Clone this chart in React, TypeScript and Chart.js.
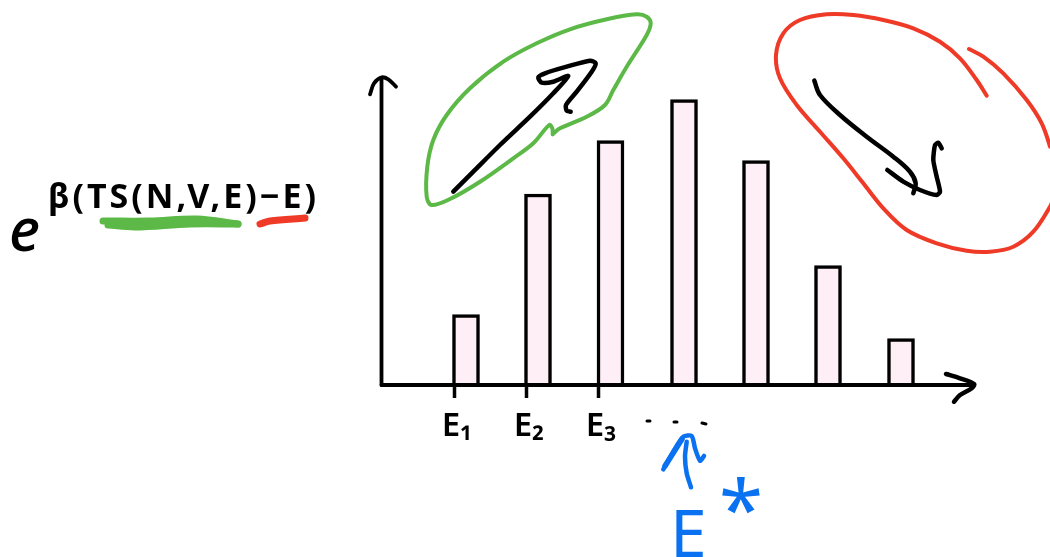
import React, { useEffect, useRef } from "react";
import { Chart, registerables } from "chart.js";

Chart.register(...registerables);

type Pt = [number, number];

const barCenters = [466, 538, 610.5, 684, 756, 828, 901];
const barValues = [70.5, 191, 244.5, 285.5, 224.5, 119.5, 46.5];
const tickPositions = [454, 526, 598];
const tickLabels = ["E₁", "E₂", "E₃"];
const ellipsisDotA: Pt[] = [[647, -36], [650, -36]];
const ellipsisDotB: Pt[] = [[674, -37], [677, -37]];
const ellipsisDotC: Pt[] = [[702, -38], [706, -39]];

const yAxisLine: Pt[] = [[381.5, 0], [381.5, 306]];
const xAxisLine: Pt[] = [[381.5, 0], [972, 0]];
const yArrowHead: Pt[] = [[370, 290.7], [374, 301.7], [381.7, 307.7], [388.3, 305.7], [396, 298.3]];
const xArrowHead: Pt[] = [[946, 11], [960, 6.7], [974, 1], [971.7, -3.3], [960, -10], [954, -16.7]];

const greenLoop: Pt[] = [
  [552.7, 250.7], [560, 256.7], [586.7, 268.3], [605, 280], [613.3, 295], [626.7, 318.3], [646.7, 350],
  [650.7, 361.7], [646.7, 368.3], [636.7, 370.7], [606.7, 365.7], [570, 355.7], [536.7, 341.7], [503.3, 323.3],
  [470, 296.7], [446.7, 270], [433.3, 245], [427.3, 218.3], [426.7, 188.3], [431.7, 180], [450, 186],
  [480, 203.3], [513.3, 226.7], [533.3, 241.7], [549.3, 260], [552.3, 256.7], [552.7, 250.7],
];
const greenArrow: Pt[] = [
  [453.3, 193.3], [473.3, 213.3], [500, 240], [530, 268.3], [553.3, 291.7], [568.3, 309], [553.3, 303.3],
  [541.7, 302.3], [538.3, 307.7], [545, 311.7], [566.7, 318.3], [590, 324.3], [595.7, 321.7], [591.7, 313.3],
  [576.7, 293.3], [566, 280], [566.7, 274.3], [570.7, 273.3],
];
const redLoop: Pt[] = [
  [986.7, 289.3], [976.7, 305], [960, 326.7], [940, 343.3], [913.3, 356.7], [883.3, 365], [853.3, 370],
  [826.7, 370.7], [800, 365], [783.3, 351.7], [776, 330], [780, 306.7], [796.7, 280], [820, 253.3],
  [843.3, 226.7], [863.3, 201.7], [883.3, 176.7], [906.7, 155], [936.7, 141.7], [966.7, 134.3], [990, 133.3],
  [1013.3, 138.3], [1033.3, 153.3], [1050, 178.3], [1056, 192],
];
const redTail: Pt[] = [[969, 336], [983.3, 328.3], [1003.3, 311.7], [1026.7, 285], [1041.7, 261.7], [1050, 238.3], [1054, 222]];
const redArrowShaft: Pt[] = [
  [814.3, 304.3], [820, 290], [840, 270], [866.7, 248.3], [893.3, 228.3], [910, 213.3], [915.7, 201.7], [913.3, 191.7],
];
const redArrowHead: Pt[] = [
  [887.3, 215], [903.3, 203.3], [920, 195], [936.7, 190], [940, 193.3], [936.7, 208.3], [933.3, 225], [935, 240],
  [938.3, 242.3], [941.7, 236.7],
];
const blueArrowHead: Pt[] = [
  [663.3, -84.3], [673.3, -66.7], [683.3, -51.7], [691.7, -51], [695, -63.3], [700, -75.7], [704, -71],
];
const blueWedge: Pt[] = [[665, -81], [682, -54]];
const blueArrowShaft: Pt[] = [[691, -102.3], [686.7, -88.3], [685, -71.7], [686.7, -56.7]];
const greenUnderlineA: Pt[] = [[103, 164], [150, 164], [197, 166], [238, 161]];
const greenUnderlineB: Pt[] = [[108, 160], [135, 158], [190, 161], [238, 161]];
const redUnderline: Pt[] = [[260, 161], [270, 164], [305, 167]];

const toXY = (pts: Pt[]) => pts.map(([x, y]) => ({ x, y }));
const stroke = (pts: Pt[], color: string, width = 4, tension = 0.35) => ({
  type: "line" as const,
  data: toXY(pts),
  borderColor: color,
  backgroundColor: color,
  borderWidth: width,
  borderCapStyle: "round" as const,
  borderJoinStyle: "round" as const,
  pointRadius: 0,
  tension,
  fill: false,
  clip: false as const,
});

const formulaPlugin = {
  id: "formula",
  afterDatasetsDraw(chart: Chart) {
    const ctx = chart.ctx as CanvasRenderingContext2D & { letterSpacing: string };
    ctx.save();
    ctx.textBaseline = "alphabetic";
    ctx.textAlign = "left";
    ctx.fillStyle = "#000";
    ctx.font = 'italic 500 60px "Noto Sans", "DejaVu Sans", sans-serif';
    ctx.fillText("e", 9, 251);
    ctx.font = '700 34px "Noto Sans", "DejaVu Sans", sans-serif';
    ctx.letterSpacing = "3px";
    ctx.fillText("β(TS(N,V,E)−E)", 48, 208);
    ctx.letterSpacing = "0px";
    ctx.fillStyle = "#0a72f0";
    ctx.font = '400 66px "Noto Sans", "DejaVu Sans", sans-serif';
    ctx.fillText("E", 670, 557);
    ctx.font = '400 80px "Noto Sans", "DejaVu Sans", sans-serif';
    ctx.fillText("*", 719, 538);
    ctx.restore();
  },
};

export default function App() {
  const ref = useRef<HTMLCanvasElement>(null);

  useEffect(() => {
    document.body.style.margin = "0";
    const chart = new Chart(ref.current!, {
      type: "bar",
      data: {
        datasets: [
          {
            type: "bar",
            data: barCenters.map((x, i) => ({ x, y: barValues[i] })),
            backgroundColor: "#feeef6",
            borderColor: "#000",
            borderWidth: 3.5,
            barThickness: 27,
            order: 2,
          },
          stroke(yAxisLine, "#000", 3.8, 0),
          stroke(xAxisLine, "#000", 3.8, 0),
          stroke(yArrowHead, "#000", 3.8),
          stroke(xArrowHead, "#000", 4.5),
          stroke(greenLoop, "#5cb947", 4),
          stroke(greenArrow, "#000", 4.5, 0.25),
          stroke(redLoop, "#ee3a26", 4),
          stroke(redTail, "#ee3a26", 4),
          stroke(redArrowShaft, "#000", 4.5),
          stroke(redArrowHead, "#000", 4.5, 0.2),
          stroke(blueArrowHead, "#0a72f0", 4.5, 0.25),
          stroke(blueWedge, "#0a72f0", 5.5, 0),
          stroke(blueArrowShaft, "#0a72f0", 4.5, 0.25),
          stroke(greenUnderlineA, "#5cb947", 7),
          stroke(greenUnderlineB, "#5cb947", 7),
          stroke(redUnderline, "#ee3a26", 7),
          stroke(ellipsisDotA, "#000", 3, 0),
          stroke(ellipsisDotB, "#000", 3, 0),
          stroke(ellipsisDotC, "#000", 3, 0),
        ] as any,
      },
      options: {
        responsive: false,
        animation: false,
        layout: { padding: { left: 0, right: 0, top: 77, bottom: 0 } },
        plugins: { legend: { display: false }, tooltip: { enabled: false } },
        scales: {
          x: {
            type: "linear",
            min: 0,
            max: 1050,
            offset: false,
            afterFit: (s: any) => {
              s.height = 172;
            },
            afterBuildTicks: (s: any) => {
              s.ticks = tickPositions.map((value) => ({ value }));
            },
            border: { display: false },
            grid: { offset: false, drawOnChartArea: false, drawTicks: true, tickLength: 13, tickColor: "#000", tickWidth: 3.5 },
            ticks: {
              autoSkip: false,
              maxRotation: 0,
              color: "#000",
              padding: 9,
              labelOffset: 3,
              font: { family: '"Noto Sans", "DejaVu Sans", sans-serif', size: 33, weight: 600 },
              callback: (_v: any, i: number) => tickLabels[i],
            },
          },
          y: { display: false, min: 0, max: 308 },
        },
      } as any,
      plugins: [formulaPlugin],
    });
    return () => chart.destroy();
  }, []);

  return <canvas ref={ref} width={1050} height={557} style={{ display: "block" }} />;
}
